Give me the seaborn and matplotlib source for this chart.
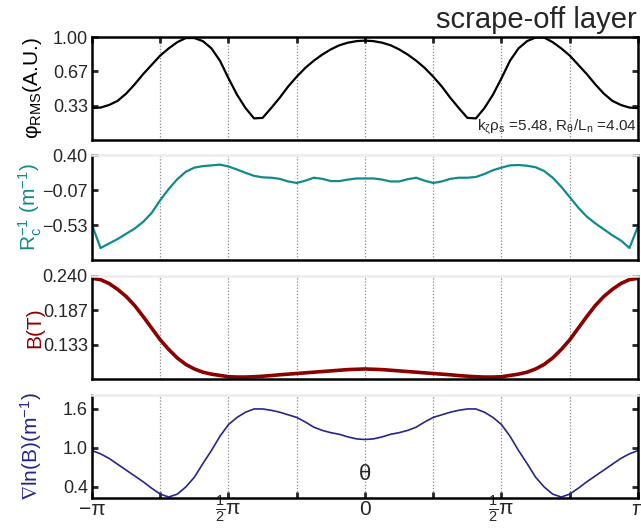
import numpy as np
import matplotlib
matplotlib.use("Agg")
import matplotlib.pyplot as plt
import seaborn as sns

sns.set_style("white")
plt.rcParams['font.family'] = ['Liberation Sans', 'DejaVu Sans']
plt.rcParams['mathtext.fontset'] = 'custom'
plt.rcParams['mathtext.rm'] = 'Liberation Sans'
plt.rcParams['mathtext.it'] = 'Liberation Sans:italic'
plt.rcParams['mathtext.default'] = 'regular'

# poloidal angle samples, -pi..pi in steps of pi/32
theta = np.arange(-32, 33) * np.pi / 32

# values
phi_rms = [0.31, 0.315, 0.34, 0.38, 0.45, 0.54, 0.64, 0.73, 0.82, 0.89, 0.95, 0.99, 0.99,
           0.96, 0.89, 0.77, 0.60, 0.44, 0.31, 0.21, 0.215, 0.31, 0.41, 0.52, 0.615, 0.70,
           0.77, 0.83, 0.88, 0.92, 0.945, 0.96, 0.965,
           0.96, 0.945, 0.92, 0.88, 0.83, 0.77, 0.70, 0.615, 0.52, 0.41, 0.31, 0.215, 0.21,
           0.31, 0.44, 0.60, 0.77, 0.89, 0.96, 0.995, 0.995, 0.95, 0.89, 0.82, 0.73, 0.64,
           0.54, 0.45, 0.38, 0.34, 0.315, 0.31]

inv_rc = [-0.53, -0.84, -0.78, -0.72, -0.65, -0.58, -0.49, -0.37, -0.20, -0.05, 0.08, 0.18,
          0.235, 0.255, 0.265, 0.275, 0.25, 0.21, 0.165, 0.125, 0.105, 0.10, 0.085, 0.05,
          0.03, 0.06, 0.10, 0.085, 0.055, 0.055, 0.075, 0.09, 0.09,
          0.09, 0.075, 0.05, 0.05, 0.08, 0.10, 0.06, 0.03, 0.05, 0.085, 0.10, 0.10, 0.11,
          0.15, 0.20, 0.235, 0.265, 0.27, 0.26, 0.24, 0.19, 0.10, -0.02, -0.16, -0.30, -0.42,
          -0.51, -0.59, -0.67, -0.74, -0.84, -0.55]

b_field = [0.236, 0.234, 0.228, 0.219, 0.208, 0.194, 0.177, 0.159, 0.141, 0.126, 0.113,
           0.103, 0.096, 0.091, 0.088, 0.086, 0.084, 0.0835, 0.0835, 0.084, 0.0848, 0.0858,
           0.087, 0.088, 0.089, 0.090, 0.091, 0.092, 0.093, 0.094, 0.095, 0.0955, 0.096,
           0.0955, 0.095, 0.094, 0.093, 0.092, 0.091, 0.090, 0.089, 0.088, 0.087, 0.0858,
           0.0848, 0.084, 0.0835, 0.0835, 0.084, 0.086, 0.088, 0.091, 0.096, 0.103, 0.113,
           0.126, 0.141, 0.159, 0.177, 0.194, 0.208, 0.219, 0.228, 0.234, 0.236]

grad_lnb = [0.96, 0.91, 0.84, 0.75, 0.66, 0.57, 0.48, 0.38, 0.29, 0.245, 0.29, 0.40, 0.55,
            0.76, 0.96, 1.18, 1.36, 1.47, 1.55, 1.60, 1.60, 1.58, 1.55, 1.51, 1.47, 1.40,
            1.32, 1.27, 1.235, 1.21, 1.17, 1.14, 1.13,
            1.14, 1.17, 1.21, 1.235, 1.27, 1.32, 1.40, 1.47, 1.51, 1.55, 1.58, 1.60, 1.60,
            1.55, 1.47, 1.36, 1.18, 0.96, 0.76, 0.55, 0.40, 0.29, 0.245, 0.29, 0.38, 0.48,
            0.57, 0.66, 0.75, 0.84, 0.91, 0.96]

panels = [
    dict(y=phi_rms, color='black', lw=1.6, ylim=(0, 1.0),
         ticks=[1/3, 2/3, 1.0], labels=['0.33', '0.67', '1.00'],
         ylabel=r'φ$_{\rm RMS}$(A.U.)', lcolor='black'),
    dict(y=inv_rc, color='#138a8a', lw=1.6, ylim=(-1.0, 0.4),
         ticks=[-0.5333, -0.0667, 0.4], labels=['−0.53', '−0.07', '0.40'],
         ylabel=r'R$_c^{-1}$ (m$^{-1}$)', lcolor='#138a8a'),
    dict(y=b_field, color='#8b0000', lw=2.6, ylim=(0.08, 0.24),
         ticks=[0.1333, 0.1867, 0.24], labels=['0.133', '0.187', '0.240'],
         ylabel='B(T)', lcolor='#8b0000'),
    dict(y=grad_lnb, color='#26268a', lw=1.2, ylim=(0.23, 1.81),
         ticks=[0.4, 1.0, 1.6], labels=['0.4', '1.0', '1.6'],
         ylabel=r'$\nabla$ln(B)(m$^{-1}$)', lcolor='#26268a'),
]
rects = [
    (0.1435, 0.7348, 0.8518, 0.1951),
    (0.1435, 0.5076, 0.8518, 0.1983),
    (0.1435, 0.2816, 0.8518, 0.1962),
    (0.1435, 0.0568, 0.8518, 0.1945),
]

fig = plt.figure(figsize=(6.41, 5.28), dpi=100)
xt = np.arange(-4, 5) * np.pi / 4
xtl = ['−π', '', r'$\frac{1}{2}\pi$', '', '0', '', r'$\frac{1}{2}\pi$', '', 'π']

axes = []
for i, (p, r) in enumerate(zip(panels, rects)):
    ax = fig.add_axes(r)
    sns.lineplot(x=theta, y=p['y'], ax=ax, color=p['color'], lw=p['lw'],
                 solid_joinstyle='round')
    ax.set_xlim(-np.pi, np.pi)
    ax.set_ylim(*p['ylim'])
    ax.set_yticks(p['ticks'])
    ax.set_yticklabels(p['labels'])
    ax.set_xticks(xt)
    for xv in xt[1:-1]:
        ax.axvline(xv, color='#8a8a8a', ls=(0, (1, 1.5)), lw=0.9, zorder=0)
    for s in ax.spines.values():
        s.set_linewidth(1.8)
        s.set_color('black')
    if i > 0:
        ax.spines['top'].set_color('#ececec')
    ax.tick_params(axis='y', direction='in', length=4, width=2, labelsize=13,
                   right=True, left=True, pad=3)
    ax.tick_params(axis='x', direction='in', length=4, width=2, labelsize=15,
                   top=(i == 0), bottom=(i == 3), labelbottom=(i == 3), pad=8)
    if i == 3:
        ax.set_xticklabels(xtl)
        for lab in ax.get_xticklabels():
            lab.set_va('center')
    ax.set_ylabel(p['ylabel'], color=p['lcolor'], fontsize=15)
    ax.yaxis.set_label_coords(-0.088, 0.5)
    axes.append(ax)

axes[0].text(0.997, 0.03, r'k$_\zeta$$\rho_s$ =5.48, R$_\theta$/L$_n$ =4.04',
             transform=axes[0].transAxes, ha='right', va='bottom', fontsize=11)
axes[3].text(0.5, 0.23, 'θ', transform=axes[3].transAxes, ha='center', va='center',
             fontsize=16)
fig.text(0.993, 0.947, 'scrape-off layer', ha='right', va='baseline', fontsize=21)

plt.savefig('out.png', dpi=100)
